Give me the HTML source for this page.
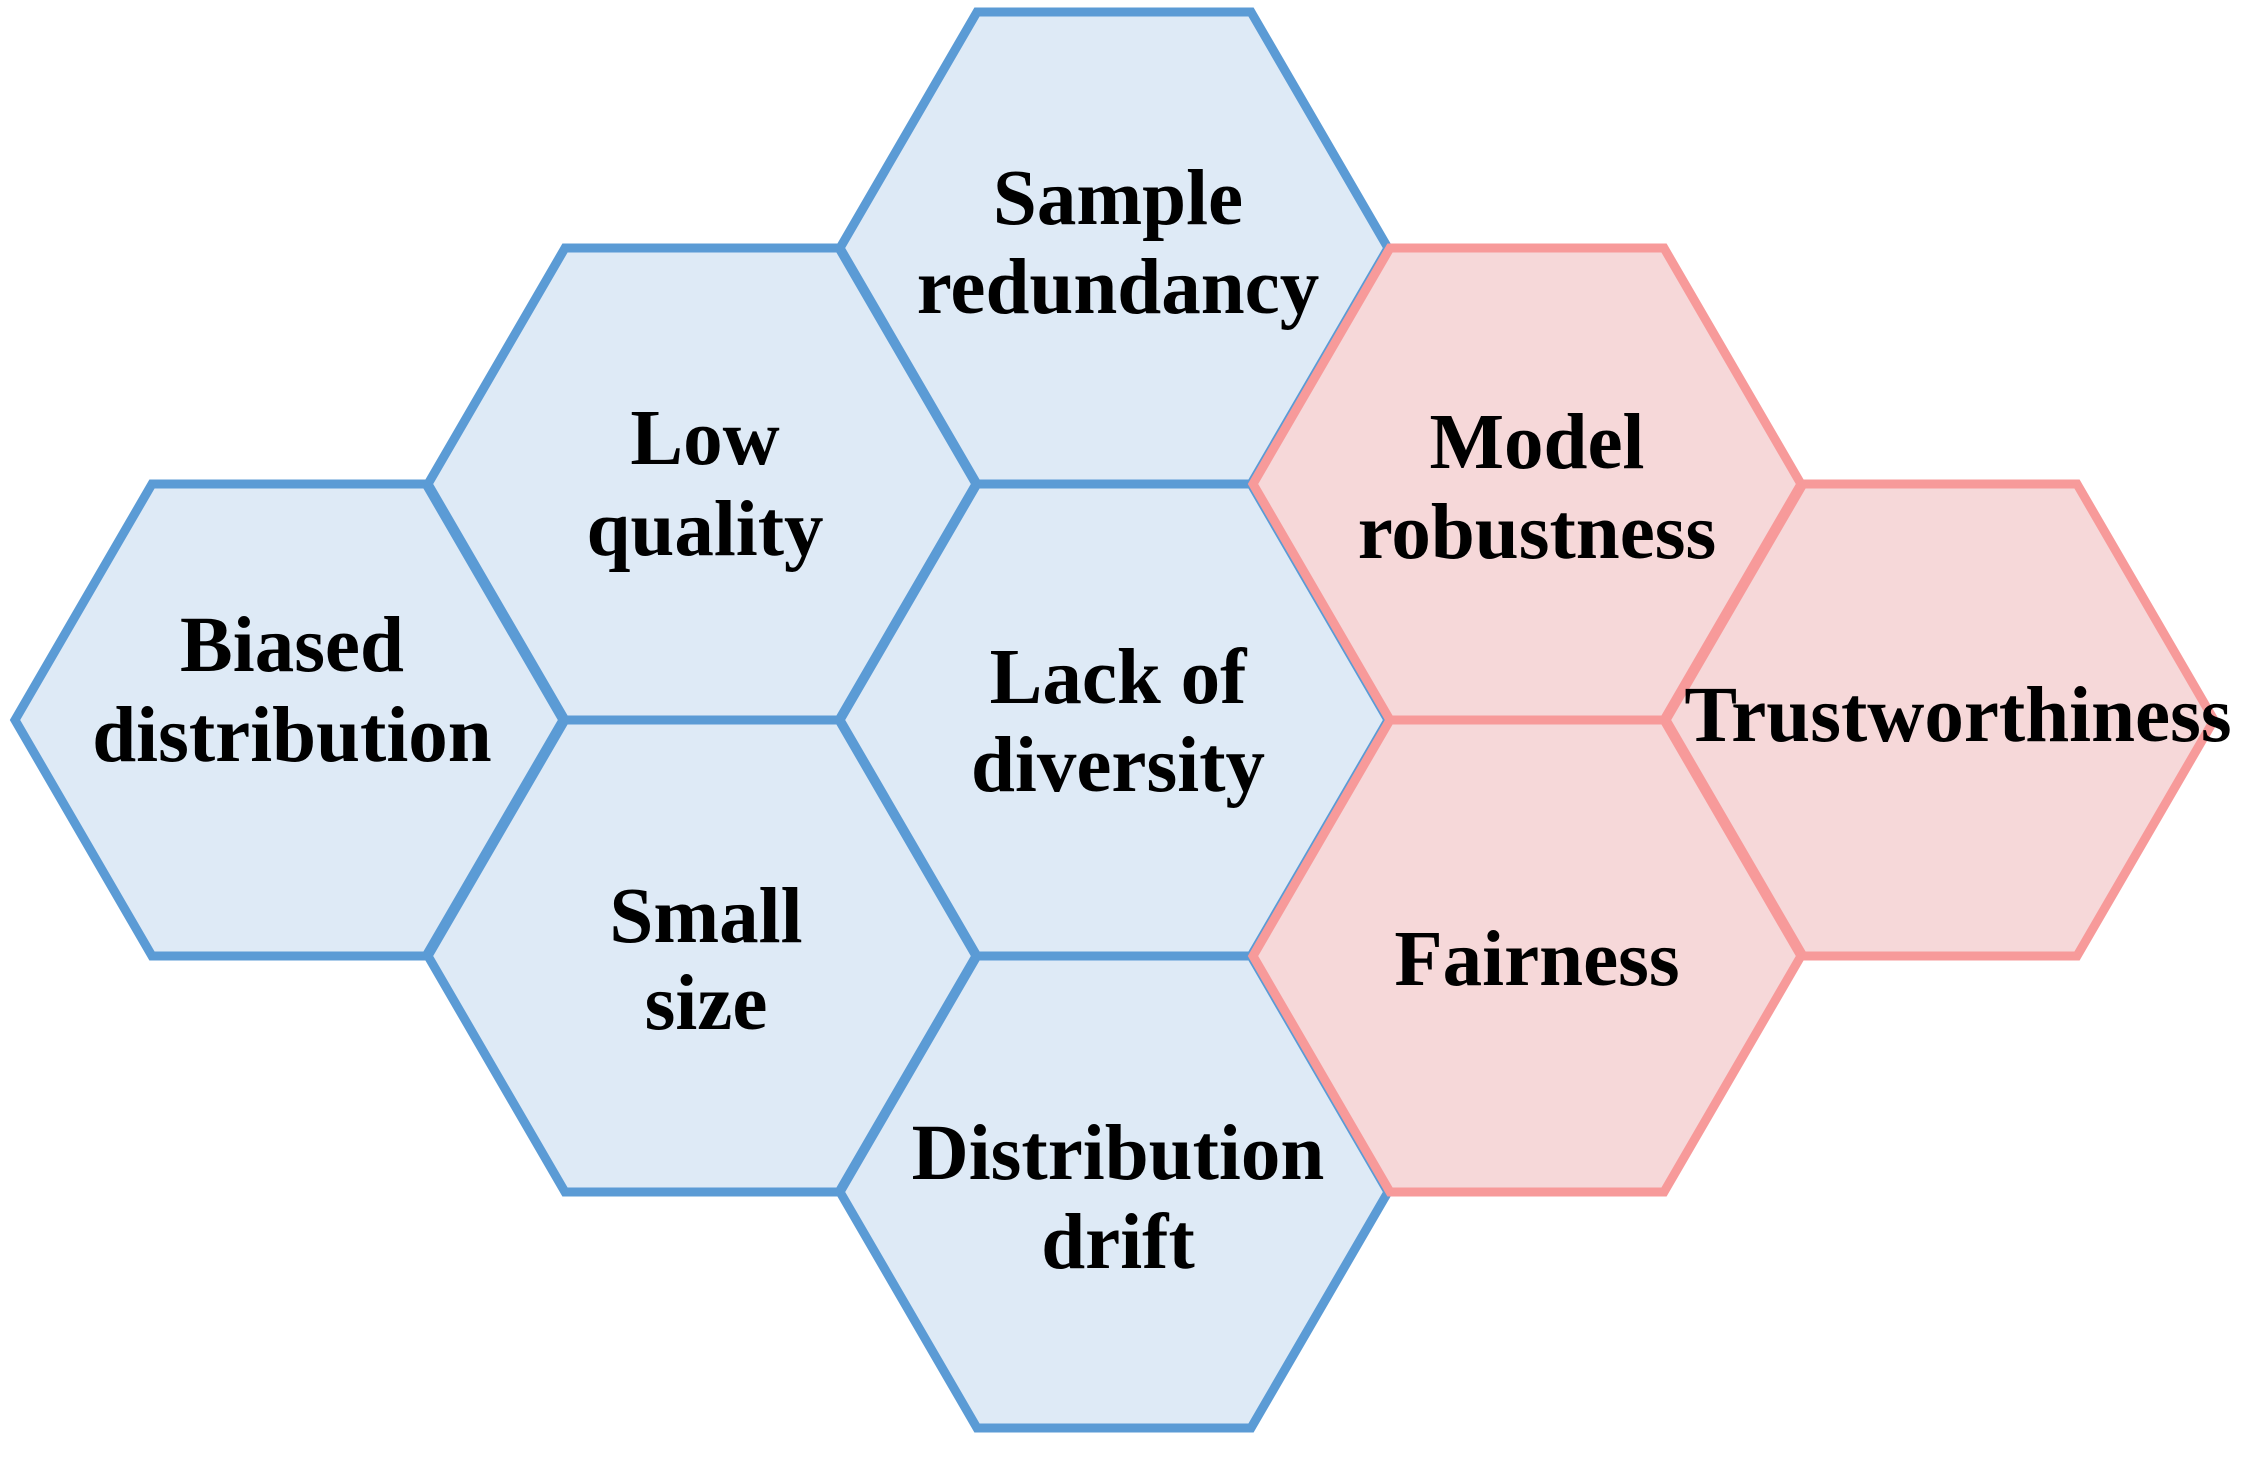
<!DOCTYPE html>
<html><head><meta charset="utf-8"><style>
html,body{margin:0;padding:0;background:#fff;}
svg{display:block;}
text{font-family:"Liberation Serif",serif;font-weight:bold;font-size:79px;fill:#000;text-anchor:middle;}
</style></head><body>
<svg width="2253" height="1458" viewBox="0 0 2253 1458" xmlns="http://www.w3.org/2000/svg">
<defs>
<polygon id="hx" points="-274,0 -137,-236 137,-236 274,0 137,236 -137,236"/>
</defs>
<g fill="#DEEAF6" stroke="#5B9BD5" stroke-width="9" stroke-linejoin="miter">
<use href="#hx" x="289" y="720"/>
<use href="#hx" x="702" y="484"/>
<use href="#hx" x="702" y="956"/>
<use href="#hx" x="1114" y="248"/>
<use href="#hx" x="1114" y="720"/>
<use href="#hx" x="1114" y="1192"/>
</g>
<g fill="#F6D8D9" stroke="#F79A9A" stroke-width="9">
<use href="#hx" x="1527" y="484"/>
<use href="#hx" x="1527" y="956"/>
<use href="#hx" x="1940" y="720"/>
</g>
<text x="1118" y="224">Sample</text>
<text x="1118" y="313">redundancy</text>
<text x="705" y="464">Low</text>
<text x="705" y="555">quality</text>
<text x="1118" y="703">Lack of</text>
<text x="1118" y="791">diversity</text>
<text x="292" y="671">Biased</text>
<text x="292" y="761">distribution</text>
<text x="1537" y="468">Model</text>
<text x="1537" y="558">robustness</text>
<text x="706" y="942">Small</text>
<text x="706" y="1029">size</text>
<text x="1118" y="1179">Distribution</text>
<text x="1118" y="1268">drift</text>
<text x="1537" y="985">Fairness</text>
<text x="1958" y="741">Trustworthiness</text>
</svg>
</body></html>
